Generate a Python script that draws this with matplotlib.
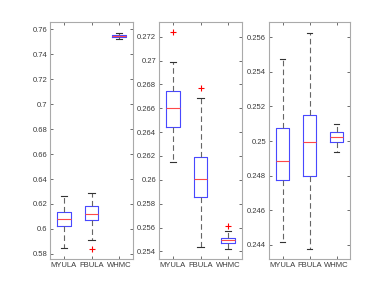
import numpy as np
import matplotlib
matplotlib.use('Agg')
import matplotlib.pyplot as plt

plt.rcParams['font.family'] = ['Liberation Sans', 'DejaVu Sans']

labels = ['MYULA', 'FBULA', 'WHMC']

# panel 1: (whislo, q1, med, q3, whishi), outliers
p1_stats = [(0.5843, 0.6019, 0.6083, 0.6136, 0.6264),
            (0.5910, 0.6067, 0.6120, 0.6184, 0.6290),
            (0.7525, 0.7536, 0.7544, 0.7555, 0.7573)]
p1_fliers = [[], [0.5837], []]

p2_stats = [(0.26147, 0.26441, 0.26598, 0.26746, 0.26984),
            (0.25434, 0.25857, 0.26005, 0.26192, 0.26690),
            (0.25420, 0.25467, 0.25495, 0.25515, 0.25574)]
p2_fliers = [[0.27236], [0.26766], [0.25616]]

p3_stats = [(0.24414, 0.24775, 0.24887, 0.25076, 0.25476),
            (0.24375, 0.24800, 0.24993, 0.25148, 0.25627),
            (0.24937, 0.24993, 0.25026, 0.25051, 0.25099)]
p3_fliers = [[], [], []]

p1_ticks = [0.58, 0.6, 0.62, 0.64, 0.66, 0.68, 0.7, 0.72, 0.74, 0.76]
p2_ticks = [0.254, 0.256, 0.258, 0.26, 0.262, 0.264, 0.266, 0.268, 0.27, 0.272]
p3_ticks = [0.244, 0.246, 0.248, 0.25, 0.252, 0.254, 0.256]

panels = [
    (p1_stats, p1_fliers, p1_ticks, (0.5758, 0.7660), [50, 133]),
    (p2_stats, p2_fliers, p2_ticks, (0.25336, 0.27323), [159, 242]),
    (p3_stats, p3_fliers, p3_ticks, (0.24317, 0.25689), [269, 350]),
]

W, H = 389, 292
fig = plt.figure(figsize=(W / 100, H / 100), dpi=100)
fig.patch.set_facecolor('white')

txt = '#3a3a3a'
for stats, fliers, ticks, ylim, (x0, x1) in panels:
    ax = fig.add_axes([x0 / W, 1 - 259 / H, (x1 - x0) / W, 237 / H])
    bstats = []
    for (lo, q1, med, q3, hi), fl, lab in zip(stats, fliers, labels):
        bstats.append(dict(whislo=lo, q1=q1, med=med, q3=q3, whishi=hi,
                           fliers=fl, label=lab))
    ax.bxp(bstats, positions=[1, 2, 3], widths=0.5,
           boxprops=dict(color='#4848ff', linewidth=0.8),
           medianprops=dict(color='#ff4848', linewidth=0.8),
           whiskerprops=dict(color='#666666', linewidth=0.8, linestyle=(0, (5, 3))),
           capprops=dict(color='#333333', linewidth=0.8),
           flierprops=dict(marker='+', markeredgecolor='red', markersize=4,
                           linestyle='none', markeredgewidth=0.8),
           capwidths=0.22)
    ax.set_xlim(0.5, 3.5)
    ax.set_ylim(*ylim)
    ax.set_yticks(ticks)
    ax.set_yticklabels([('%g' % t) for t in ticks])
    ax.set_xticks([1, 2, 3])
    ax.set_xticklabels(labels)
    ax.tick_params(direction='in', length=2, width=0.6, labelsize=5.5,
                   colors='#555555', labelcolor=txt, top=True, right=True, pad=2)
    for s in ax.spines.values():
        s.set_color('#aaaaaa')
        s.set_linewidth(0.8)

fig.savefig('out.png', dpi=100)
